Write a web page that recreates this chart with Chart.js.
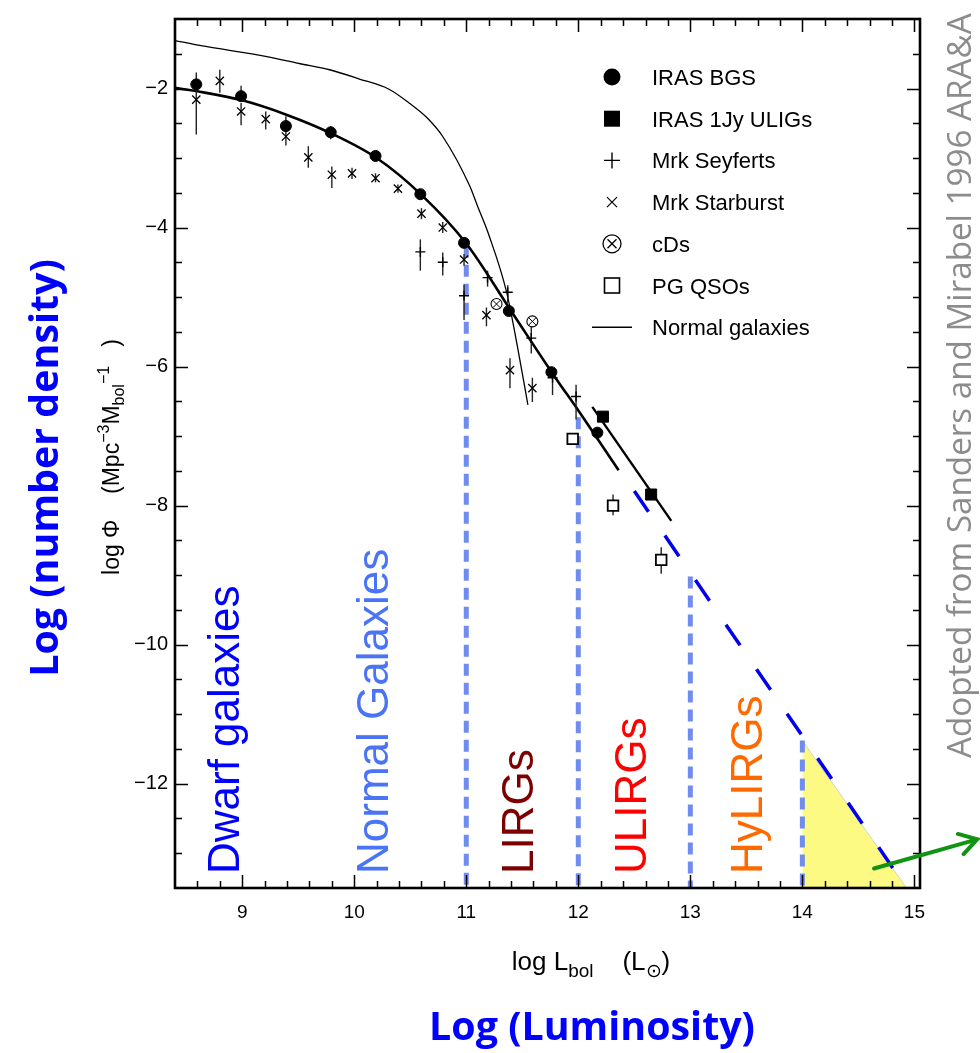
<!DOCTYPE html>
<html>
<head>
<meta charset="utf-8">
<script src="https://cdn.jsdelivr.net/npm/chart.js@4.4.0/dist/chart.umd.min.js"></script>
<style>
  body { margin: 0; background: #fff; }
  #wrap { width: 980px; height: 1053px; }
</style>
</head>
<body>
<div id="wrap"><canvas id="lf" width="980" height="1053"></canvas></div>
<script>
Chart.defaults.font.family = "'Liberation Sans', Arial, sans-serif";
Chart.defaults.color = "#000";

const SANS = "'Liberation Sans', Arial, sans-serif";
const TITLE = "'Open Sans', sans-serif";

// axis ticks
const xTicks = [9, 10, 11, 12, 13, 14, 15];
const yTicks = [-2, -4, -6, -8, -10, -12];

// IRAS BGS (filled circles)
const bgsX = [8.59, 8.99, 9.39, 9.79, 10.19, 10.59, 10.98, 11.38, 11.76, 12.17];
const bgsY = [-1.94, -2.11, -2.54, -2.63, -2.97, -3.52, -4.22, -5.2, -6.08, -6.95];
const bgsLo = [-2.0, -2.15, -2.6, -2.73, null, null, null, null, null, null];
const bgsHi = [-1.77, -1.96, -2.4, -2.54, null, null, null, null, null, null];

// IRAS 1Jy ULIGs (filled squares)
const ulX = [12.22, 12.65];
const ulY = [-6.72, -7.84];

// Mrk Seyferts (+)
const syX = [10.59, 10.79, 10.98, 11.19, 11.37, 11.58, 11.77, 11.98];
const syY = [-4.35, -4.5, -4.98, -4.72, -4.93, -5.59, -6.16, -6.43];
const syLo = [-4.62, -4.69, -5.33, -4.85, -5.08, -5.81, -6.41, -6.76];
const syHi = [-4.17, -4.36, -4.82, -4.62, -4.83, -5.43, -6.02, -6.26];

// Mrk Starburst (x)
const sbX = [8.59, 8.8, 8.99, 9.21, 9.39, 9.59, 9.8, 9.98, 10.19, 10.39, 10.6, 10.79, 10.98, 11.18, 11.39, 11.59];
const sbY = [-2.16, -1.89, -2.33, -2.44, -2.69, -2.99, -3.24, -3.22, -3.29, -3.44, -3.8, -4.0, -4.46, -5.26, -6.05, -6.31];
const sbLo = [-2.66, -2.06, -2.53, -2.59, -2.82, -3.14, -3.43, -3.3, -3.35, -3.5, -3.88, -4.08, -4.55, -5.42, -6.31, -6.51];
const sbHi = [-1.97, -1.73, -2.21, -2.33, -2.54, -2.83, -3.12, -3.14, -3.22, -3.38, -3.72, -3.92, -4.38, -5.15, -5.88, -6.16];

// cDs
const cdX = [11.27, 11.59];
const cdY = [-5.1, -5.35];

// PG QSOs (open squares)
const pgX = [11.95, 12.31, 12.74];
const pgY = [-7.04, -8.0, -8.78];
const pgLo = [-7.12, -8.14, -8.98];
const pgHi = [-6.96, -7.84, -8.6];

// fitted curves
const bgsFitX = [8.4, 8.6, 9.0, 9.4, 9.8, 10.2, 10.6, 11.0, 11.4, 11.8, 12.0, 12.36];
const bgsFitY = [-1.99, -2.04, -2.17, -2.38, -2.65, -3.0, -3.53, -4.23, -5.2, -6.17, -6.63, -7.49];
const ulFitX = [12.125, 12.83];
const ulFitY = [-6.58, -8.22];
const ngX = [8.4, 8.62, 9.22, 9.51, 9.78, 10.04, 10.31, 10.5, 10.65, 10.79, 11.03, 11.1, 11.2, 11.36, 11.47, 11.55];
const ngY = [-1.31, -1.38, -1.54, -1.64, -1.73, -1.86, -2.01, -2.22, -2.42, -2.69, -3.4, -3.69, -4.1, -4.93, -5.83, -6.55];

// extrapolation, class boundaries, HyLIRG wedge, arrow
const exX = [12.5, 14.93];
const exY = [-7.79, -13.5];
const vX = [11, 12, 13, 14];
const vTop = [-4.26, -6.73, -9.02, -11.38];
const triX = [14.0, 14.93];
const triY = [-11.38, -13.5];
const arrowX = [14.64, 15.56];
const arrowY = [-13.22, -12.8];

const Y_MIN = -13.5;

const pts = (xs, ys) => xs.map((x, i) => ({ x: x, y: ys[i] }));

const errorSets = [
  { xs: bgsX, lo: bgsLo, hi: bgsHi },
  { xs: sbX, lo: sbLo, hi: sbHi },
  { xs: syX, lo: syLo, hi: syHi },
  { xs: pgX, lo: pgLo, hi: pgHi },
];

const markerBase = { showLine: false, order: 1 };

const datasets = [
  // markers
  Object.assign({}, markerBase, { label: "IRAS BGS", data: pts(bgsX, bgsY), pointStyle: "circle", pointRadius: 5.5, backgroundColor: "#000", borderColor: "#000", borderWidth: 1 }),
  Object.assign({}, markerBase, { label: "IRAS 1Jy ULIGs", data: pts(ulX, ulY), pointStyle: "rect", pointRadius: 7.8, backgroundColor: "#000", borderColor: "#000", borderWidth: 1 }),
  Object.assign({}, markerBase, { label: "Mrk Seyferts", data: pts(syX, syY), pointStyle: "cross", pointRadius: 5, borderColor: "#000", borderWidth: 1.4 }),
  Object.assign({}, markerBase, { label: "Mrk Starburst", data: pts(sbX, sbY), pointStyle: "crossRot", pointRadius: 5.8, borderColor: "#000", borderWidth: 1.3 }),
  Object.assign({}, markerBase, { label: "cDs", data: pts(cdX, cdY), pointStyle: "crossRot", pointRadius: 5, borderColor: "#000", borderWidth: 1, order: 0 }),
  Object.assign({}, markerBase, { label: "cDs ring", data: pts(cdX, cdY), pointStyle: "circle", pointRadius: 5.5, backgroundColor: "#fff", borderColor: "#000", borderWidth: 1.1 }),
  Object.assign({}, markerBase, { label: "PG QSOs", data: pts(pgX, pgY), pointStyle: "rect", pointRadius: 7.5, backgroundColor: "#fff", borderColor: "#000", borderWidth: 1.8 }),
  // curves
  { label: "bgsFit", data: pts(bgsFitX, bgsFitY), showLine: true, borderColor: "#000", borderWidth: 2.6, pointRadius: 0, cubicInterpolationMode: "monotone", order: 2 },
  { label: "ulFit", data: pts(ulFitX, ulFitY), showLine: true, borderColor: "#000", borderWidth: 2.4, pointRadius: 0, order: 3 },
  { label: "Normal galaxies", data: pts(ngX, ngY), showLine: true, borderColor: "#000", borderWidth: 1.3, pointRadius: 0, cubicInterpolationMode: "monotone", order: 3 },
  { label: "extrapolation", data: pts(exX, exY), showLine: true, borderColor: "#0000ee", borderWidth: 3.5, borderDash: [25, 29], pointRadius: 0, order: 4 },
  { label: "wedge", data: pts(triX, triY), showLine: true, borderColor: "rgba(200,200,200,0.8)", borderWidth: 1, backgroundColor: "#fdfa84", fill: "start", pointRadius: 0, order: 6 },
];

vX.forEach((v, i) => {
  datasets.push({
    label: "boundary " + v,
    data: [{ x: v, y: vTop[i] }, { x: v, y: Y_MIN }],
    showLine: true, borderColor: "rgba(104,134,238,0.95)", borderWidth: 5, borderDash: [12, 7], pointRadius: 0, order: 5,
  });
});

const errorBarPlugin = {
  id: "errorBars",
  afterDatasetDraw(chart, args) {
    if (chart.data.datasets[args.index].label !== "bgsFit") return;
    const ctx = chart.ctx;
    const x = chart.scales.x, y = chart.scales.y;
    ctx.save();
    ctx.strokeStyle = "#222";
    ctx.lineWidth = 1.4;
    for (const set of errorSets) {
      set.xs.forEach((v, i) => {
        if (set.lo[i] === null) return;
        const px = x.getPixelForValue(v);
        ctx.beginPath();
        ctx.moveTo(px, y.getPixelForValue(set.lo[i]));
        ctx.lineTo(px, y.getPixelForValue(set.hi[i]));
        ctx.stroke();
      });
    }
    ctx.restore();
  },
};

const framePlugin = {
  id: "frame",
  afterDraw(chart) {
    const ctx = chart.ctx;
    const a = chart.chartArea;
    const x = chart.scales.x, y = chart.scales.y;
    ctx.save();
    ctx.strokeStyle = "#000";
    ctx.lineWidth = 1.5;
    ctx.beginPath();
    for (let k = 86; k <= 150; k += 2) {
      const px = Math.round(x.getPixelForValue(k / 10)) + 0.5;
      const len = k % 10 === 0 ? 13 : 7;
      ctx.moveTo(px, a.bottom); ctx.lineTo(px, a.bottom - len);
      ctx.moveTo(px, a.top); ctx.lineTo(px, a.top + len);
    }
    for (let k = -130; k <= -15; k += 5) {
      const py = Math.round(y.getPixelForValue(k / 10)) + 0.5;
      const len = k % 20 === 0 ? 13 : 7;
      ctx.moveTo(a.left, py); ctx.lineTo(a.left + len, py);
      ctx.moveTo(a.right, py); ctx.lineTo(a.right - len, py);
    }
    ctx.stroke();
    ctx.lineWidth = 2.6;
    ctx.strokeRect(a.left, a.top, a.right - a.left, a.bottom - a.top);
    ctx.restore();
  },
};

function drawRich(ctx, parts, x, y) {
  let w = 0;
  parts.forEach(p => { ctx.font = p[1] + "px " + SANS; w += ctx.measureText(p[0]).width; });
  let cx = x - w / 2;
  ctx.textAlign = "left";
  parts.forEach(p => {
    ctx.font = p[1] + "px " + SANS;
    ctx.fillText(p[0], cx, y + p[2]);
    cx += ctx.measureText(p[0]).width;
  });
}

function fitSize(ctx, text, weight, family, target) {
  ctx.font = weight + " 100px " + family;
  return 100 * target / ctx.measureText(text).width;
}

function rotText(ctx, text, bx, by, align) {
  ctx.save();
  ctx.translate(bx, by);
  ctx.rotate(-Math.PI / 2);
  ctx.textAlign = align;
  ctx.fillText(text, 0, 0);
  ctx.restore();
}

const regionLabels = [
  { text: "Dwarf galaxies", x: 239, color: "#0000ff" },
  { text: "Normal Galaxies", x: 388, color: "#4a74f5" },
  { text: "LIRGs", x: 533, color: "#7d0000" },
  { text: "ULIRGs", x: 646, color: "#ff0000" },
  { text: "HyLIRGs", x: 762, color: "#ff6a00" },
];

const legendRows = ["IRAS BGS", "IRAS 1Jy ULIGs", "Mrk Seyferts", "Mrk Starburst", "cDs", "PG QSOs", "Normal galaxies"];

const annotatePlugin = {
  id: "annotate",
  afterDraw(chart) {
    const ctx = chart.ctx;
    const x = chart.scales.x, y = chart.scales.y;
    ctx.save();
    ctx.textBaseline = "alphabetic";

    // region labels
    ctx.font = "44px " + SANS;
    regionLabels.forEach(r => {
      ctx.fillStyle = r.color;
      rotText(ctx, r.text, r.x, 874, "left");
    });

    // legend
    ctx.fillStyle = "#000";
    ctx.strokeStyle = "#000";
    const mx = 612, tx = 652;
    legendRows.forEach((name, i) => {
      const ry = 77 + i * 41.7;
      ctx.font = "22px " + SANS;
      ctx.textAlign = "left";
      ctx.fillText(name, tx, ry + 8);
      ctx.beginPath();
      if (i === 0) {
        ctx.arc(mx, ry, 8.5, 0, Math.PI * 2); ctx.fill();
      } else if (i === 1) {
        ctx.fillRect(mx - 8, ry - 8, 16, 16);
      } else if (i === 2) {
        ctx.lineWidth = 1.4;
        ctx.moveTo(mx - 8, ry); ctx.lineTo(mx + 8, ry);
        ctx.moveTo(mx, ry - 8); ctx.lineTo(mx, ry + 8); ctx.stroke();
      } else if (i === 3) {
        ctx.lineWidth = 1.2;
        ctx.moveTo(mx - 5, ry - 5); ctx.lineTo(mx + 5, ry + 5);
        ctx.moveTo(mx + 5, ry - 5); ctx.lineTo(mx - 5, ry + 5); ctx.stroke();
      } else if (i === 4) {
        ctx.lineWidth = 1.3;
        ctx.arc(mx, ry, 9, 0, Math.PI * 2); ctx.stroke();
        ctx.beginPath();
        ctx.moveTo(mx - 4.5, ry - 4.5); ctx.lineTo(mx + 4.5, ry + 4.5);
        ctx.moveTo(mx + 4.5, ry - 4.5); ctx.lineTo(mx - 4.5, ry + 4.5); ctx.stroke();
      } else if (i === 5) {
        ctx.lineWidth = 1.6;
        ctx.strokeRect(mx - 7.5, ry - 7.5, 15, 15);
      } else {
        ctx.lineWidth = 1.4;
        ctx.moveTo(mx - 20, ry); ctx.lineTo(mx + 20, ry); ctx.stroke();
      }
    });

    // y axis title
    ctx.fillStyle = "#000";
    ctx.save();
    ctx.translate(119, 457);
    ctx.rotate(-Math.PI / 2);
    drawRich(ctx, [["log \u03A6    (Mpc", 23, 0], ["\u22123", 16, -10], ["M", 23, 0], ["bol", 16, 5], ["\u22121", 16, -10], ["   )", 23, 0]], 0, 0);
    ctx.restore();

    // x axis title
    drawRich(ctx, [["log L", 26, 0], ["bol", 19, 7], ["    (L", 26, 0], ["\u2299", 19, 7], [")", 26, 0]], 591, 970);

    // big blue titles
    ctx.fillStyle = "#0000ff";
    const big = fitSize(ctx, "Log (Luminosity)", "bold", TITLE, 326);
    ctx.font = "bold " + big + "px " + TITLE;
    ctx.textAlign = "center";
    ctx.fillText("Log (Luminosity)", 592, 1040);
    rotText(ctx, "Log (number density)", 58, 468, "center");

    // credit
    ctx.fillStyle = "#8c8c8c";
    const cs = fitSize(ctx, "Adopted from Sanders and Mirabel 1996 ARA&A", "normal", TITLE, 745);
    ctx.font = cs + "px " + TITLE;
    rotText(ctx, "Adopted from Sanders and Mirabel 1996 ARA&A", 971, 758, "left");

    // green arrow
    const x0 = x.getPixelForValue(arrowX[0]), y0 = y.getPixelForValue(arrowY[0]);
    const x1 = x.getPixelForValue(arrowX[1]), y1 = y.getPixelForValue(arrowY[1]);
    const ang = Math.atan2(y1 - y0, x1 - x0);
    ctx.strokeStyle = "#139313";
    ctx.lineWidth = 4;
    ctx.lineCap = "round";
    ctx.beginPath();
    ctx.moveTo(x0, y0); ctx.lineTo(x1, y1);
    ctx.moveTo(x1 - 20 * Math.cos(ang - 0.55), y1 - 20 * Math.sin(ang - 0.55));
    ctx.lineTo(x1, y1);
    ctx.lineTo(x1 - 20 * Math.cos(ang + 0.55), y1 - 20 * Math.sin(ang + 0.55));
    ctx.stroke();
    ctx.restore();
  },
};

new Chart(document.getElementById("lf"), {
  type: "scatter",
  data: { datasets: datasets },
  options: {
    responsive: false,
    animation: false,
    events: [],
    layout: { padding: { left: 0, top: 14, right: 60, bottom: 0 } },
    plugins: { legend: { display: false }, tooltip: { enabled: false } },
    scales: {
      x: {
        type: "linear",
        min: 8.4,
        max: 15.05,
        afterBuildTicks: (axis) => { axis.ticks = xTicks.map(v => ({ value: v })); },
        afterFit: (axis) => { axis.height = 165; },
        grid: { display: false, drawTicks: false },
        border: { display: false },
        ticks: { font: { size: 19 }, padding: 13, maxRotation: 0, callback: (v) => String(v) },
      },
      y: {
        type: "linear",
        min: -13.5,
        max: -1.0,
        afterBuildTicks: (axis) => { axis.ticks = yTicks.map(v => ({ value: v })); },
        afterFit: (axis) => { axis.width = 175; },
        grid: { display: false, drawTicks: false },
        border: { display: false },
        ticks: { font: { size: 20 }, padding: 7, callback: (v) => "\u2212" + Math.abs(v) },
      },
    },
  },
  plugins: [errorBarPlugin, framePlugin, annotatePlugin],
});
</script>
</body>
</html>
